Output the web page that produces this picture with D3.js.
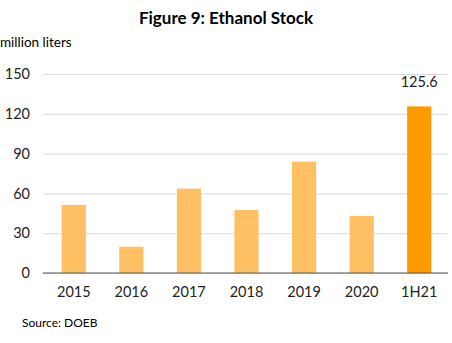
<!DOCTYPE html>
<html><head><meta charset="utf-8">
<script src="https://cdn.jsdelivr.net/npm/d3@7"></script>
<style>body{margin:0;background:#fff}svg{display:block}text{font-family:Lato,"Open Sans",sans-serif}</style>
</head><body>
<script>
const categories = ["2015","2016","2017","2018","2019","2020","1H21"];
const values = [51.3, 19.8, 63.6, 47.5, 84, 43, 125.6];
const yTicks = [0, 30, 60, 90, 120, 150];
const highlight = "1H21";

const W = 452, H = 343;
const m = {left: 45, right: 4, top: 74, bottom: 70};
const gridLeft = 43;
const svg = d3.select("body").append("svg").attr("width", W).attr("height", H);

const x = d3.scaleBand().domain(categories).range([m.left, W - m.right]).paddingInner(0.58).paddingOuter(0.29);
const y = d3.scaleLinear().domain([0, 150]).range([H - m.bottom, m.top]);

svg.append("text").attr("x", 226).attr("y", 24).attr("text-anchor", "middle")
  .attr("font-size", 17).attr("font-weight", "bold").attr("fill", "#000").text("Figure 9: Ethanol Stock");
svg.append("text").attr("x", 0).attr("y", 47).attr("font-size", 13.5).attr("fill", "#000").text("million liters");

const gy = svg.append("g").attr("transform", `translate(${gridLeft},0)`)
  .call(d3.axisLeft(y).tickValues(yTicks).tickSize(-(W - m.right - gridLeft)).tickPadding(13));
gy.select(".domain").remove();
gy.selectAll(".tick line").attr("stroke", "#d9d9d9");
gy.selectAll(".tick text").attr("font-size", 14.5).attr("fill", "#222").style("font-family", "Lato,'Open Sans',sans-serif");

svg.append("g").selectAll("rect").data(categories).join("rect")
  .attr("x", d => x(d)).attr("width", x.bandwidth())
  .attr("y", (d, i) => y(values[i])).attr("height", (d, i) => y(0) - y(values[i]))
  .attr("fill", d => d === highlight ? "#FF9A00" : "#FFC064");

const gx = svg.append("g").attr("transform", `translate(0,${y(0)})`).call(d3.axisBottom(x).tickSize(0).tickPadding(14));
gx.select(".domain").attr("stroke", "#595959").attr("stroke-width", 1.2)
  .attr("d", `M${gridLeft},0H${W - m.right}`);
gx.selectAll(".tick text").attr("font-size", 14.5).attr("fill", "#222").style("font-family", "Lato,'Open Sans',sans-serif");

const hi = categories.indexOf(highlight);
svg.append("text").attr("x", x(highlight) + x.bandwidth() / 2).attr("y", y(values[hi]) - 19)
  .attr("text-anchor", "middle").attr("font-size", 14.5).attr("fill", "#222").text(values[hi].toFixed(1));

svg.append("text").attr("x", 22).attr("y", 327).attr("font-size", 12).attr("fill", "#000").text("Source: DOEB");
</script>
</body></html>
